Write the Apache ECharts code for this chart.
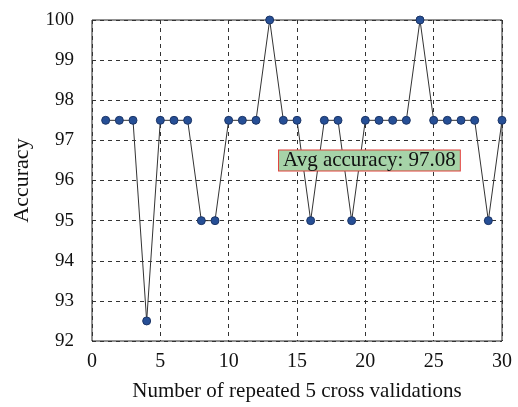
<html>
<head>
<meta charset="UTF-8">
<script src="https://cdn.jsdelivr.net/npm/echarts@6/dist/echarts.min.js"></script>
</head>
<body style="margin:0">
<div id="accChart" style="height: 407px; width: 518px"></div>
<script>
	// data
	var runs = [1, 2, 3, 4, 5, 6, 7, 8, 9, 10, 11, 12, 13, 14, 15,
			16, 17, 18, 19, 20, 21, 22, 23, 24, 25, 26, 27, 28, 29, 30];
	var accuracy = [97.5, 97.5, 97.5, 92.5, 97.5, 97.5, 97.5, 95, 95, 97.5,
			97.5, 97.5, 100, 97.5, 97.5, 95, 97.5, 97.5, 95, 97.5,
			97.5, 97.5, 97.5, 100, 97.5, 97.5, 97.5, 97.5, 95, 97.5];
	var avgText = 'Avg accuracy: 97.08';
	var avgPos = [20.3, 96.5];

	var font = '"Liberation Serif", "Times New Roman", serif';
	var accChart = echarts.init(document.getElementById('accChart'));

	var points = [];
	for (var i = 0; i < runs.length; i++) {
		points.push([runs[i], accuracy[i]]);
	}

	var option = {
		animation : false,
		grid : {
			left : 92,
			right : 16,
			top : 20,
			bottom : 64,
			show : true,
			borderColor : '#222',
			borderWidth : 1,
			backgroundColor : 'transparent'
		},
		xAxis : {
			type : 'value',
			min : 0,
			max : 30,
			interval : 5,
			name : 'Number of repeated 5 cross validations',
			nameLocation : 'middle',
			nameGap : 40,
			nameTextStyle : { fontFamily : font, fontSize : 21, color : '#111' },
			axisLine : { show : false },
			axisTick : { show : false },
			axisLabel : { fontFamily : font, fontSize : 20, color : '#111', margin : 11 },
			splitLine : { show : true, lineStyle : { type : [4, 4], color : '#333', width : 1 } }
		},
		yAxis : {
			type : 'value',
			min : 92,
			max : 100,
			interval : 1,
			name : 'Accuracy',
			nameLocation : 'middle',
			nameGap : 59,
			nameTextStyle : { fontFamily : font, fontSize : 22, color : '#111' },
			axisLine : { show : false },
			axisTick : { show : false },
			axisLabel : { fontFamily : font, fontSize : 19, color : '#111', margin : 18 },
			splitLine : { show : true, lineStyle : { type : [4, 4], color : '#333', width : 1 } }
		},
		series : [ {
			type : 'line',
			data : points,
			symbol : 'circle',
			symbolSize : 8,
			lineStyle : { color : '#333', width : 1 },
			itemStyle : { color : '#264f96', borderColor : '#1c3566', borderWidth : 1 },
			markPoint : {
				symbol : 'rect',
				symbolSize : 1,
				itemStyle : { color : 'transparent' },
				label : {
					show : true,
					formatter : avgText,
					fontFamily : font,
					fontSize : 21,
					lineHeight : 19,
					color : '#111',
					backgroundColor : '#a6d3a8',
					borderColor : '#e0403a',
					borderWidth : 1,
					padding : [1, 4, 0, 4]
				},
				data : [ { coord : avgPos } ]
			}
		} ]
	};
	accChart.setOption(option);
</script>
</body>
</html>
